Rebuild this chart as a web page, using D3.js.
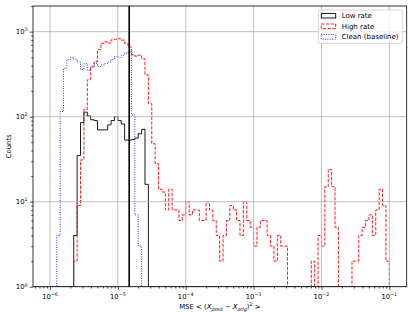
<!DOCTYPE html>
<html><head><meta charset="utf-8">
<script src="https://cdn.jsdelivr.net/npm/d3@7"></script>
<style>body{margin:0;background:#fff}svg{display:block}text{font-family:"DejaVu Sans",sans-serif}</style>
</head><body>
<svg id="c" width="415" height="312"></svg>
<script>
// log10 range of the histogram bins and number of bins
const binLog = [-6, -1];
const nBins = 100;
// counts per bin
const lowRate = [
  0,0,0,0,0,0,0,4,35,85,
  113,102,92,90,70,70,70,80,90,100,
  90,82,53,53,54,56,63,71,16,0,
  0,0,0,0,0,0,0,0,0,0, 0,0,0,0,0,0,0,0,0,0,
  0,0,0,0,0,0,0,0,0,0, 0,0,0,0,0,0,0,0,0,0,
  0,0,0,0,0,0,0,0,0,0, 0,0,0,0,0,0,0,0,0,0,
  0,0,0,0,0,0,0,0,0,0];
const highRate = [
  0,0,0,0,0,0,0,2,9,31,
  122,272,383,445,615,730,760,735,800,815,
  825,795,730,660,535,515,530,480,310,142,
  48,28,14,13,8,14,8,8,6,7,
  10,7,8,8,6,6,10,8,6,4,
  2,4,6,9,8,6,4,10,6,5,
  3,5,6,6,4,3,2,4,3,3,
  0,0,0,0,0,0,0,2,1,4,
  3,15,24,15,5,0,0,0,0,2,
  2,4,5,6,7,4,8,14,9,2];
const clean = [
  0,0,4,115,370,470,500,475,440,360,
  420,350,395,425,390,405,420,440,470,510,
  500,530,560,575,105,7,3,0,0,0,
  0,0,0,0,0,0,0,0,0,0, 0,0,0,0,0,0,0,0,0,0,
  0,0,0,0,0,0,0,0,0,0, 0,0,0,0,0,0,0,0,0,0,
  0,0,0,0,0,0,0,0,0,0, 0,0,0,0,0,0,0,0,0,0,
  0,0,0,0,0,0,0,0,0,0];
const threshold = 1.47e-5;
const seriesNames = ["Low rate", "High rate", "Clean (baseline)"];
const xTickExp = [-6,-5,-4,-3,-2,-1];
const yTickExp = [0,1,2,3];

const L=33, R=406.7, T=6, B=286.7;
const x = d3.scaleLog().domain([Math.pow(10,-6.25), Math.pow(10,-0.744)]).range([L,R]);
const y = d3.scaleLog().domain([1, Math.pow(10,3.302)]).range([B,T]);
const svg = d3.select("#c");

const edges = d3.range(nBins+1).map(i => Math.pow(10, binLog[0] + (binLog[1]-binLog[0])*i/nBins));

svg.append("defs").append("clipPath").attr("id","clip")
  .append("rect").attr("x",L).attr("y",T).attr("width",R-L).attr("height",B-T);

const xMaj = xTickExp.map(e=>Math.pow(10,e));
const yMaj = yTickExp.map(e=>Math.pow(10,e));
const styles = [
  {stroke:"#000000", dash:null},
  {stroke:"#ff0000", dash:"3.3,1.45"},
  {stroke:"#0000ff", dash:"0.9,1.5"}
];

function stepPts(counts){
  const pts=[[edges[0],1]];
  counts.forEach((c,i)=>{ pts.push([edges[i],c]); pts.push([edges[i+1],c]); });
  pts.push([edges[nBins],1]);
  return pts;
}
const line = d3.line().x(d=>x(d[0])).y(d=> d[1]>1 ? y(d[1]) : y(1));
const plot = svg.append("g").attr("clip-path","url(#clip)");
[lowRate, highRate, clean].forEach((s,k)=>{
  plot.append("path").attr("d", line(stepPts(s))).attr("fill","none")
    .attr("stroke", styles[k].stroke).attr("stroke-width",0.9)
    .attr("stroke-dasharray", styles[k].dash);
});

// grid (matplotlib draws it above patches)
const grid = svg.append("g");
grid.selectAll(".gx").data(xMaj).join("line").attr("x1",d=>x(d)).attr("x2",d=>x(d))
  .attr("y1",T).attr("y2",B).attr("stroke","#b0b0b0").attr("stroke-width",0.8);
grid.selectAll(".gy").data(yMaj).join("line").attr("y1",d=>y(d)).attr("y2",d=>y(d))
  .attr("x1",L).attr("x2",R).attr("stroke","#b0b0b0").attr("stroke-width",0.8);

// threshold line
svg.append("line").attr("x1",x(threshold)).attr("x2",x(threshold)).attr("y1",T).attr("y2",B)
  .attr("stroke","#000").attr("stroke-width",1.6);

// minor ticks
function minors(lo,hi){ const out=[]; for(let e=lo;e<=hi;e++) for(let m=2;m<=9;m++){ out.push(m*Math.pow(10,e)); } return out; }
const xDom = x.domain(), yDom = y.domain();
const xMin = minors(-7,-1).filter(v=>v>=xDom[0]&&v<=xDom[1]);
const yMin = minors(0,3).filter(v=>v>=yDom[0]&&v<=yDom[1]);

const ax = svg.append("g").attr("transform",`translate(0,${B})`)
  .call(d3.axisBottom(x).tickValues(xMaj).tickSize(3.2).tickFormat(""));
const axm = svg.append("g").attr("transform",`translate(0,${B})`)
  .call(d3.axisBottom(x).tickValues(xMin).tickSize(1.8).tickFormat(""));
const ay = svg.append("g").attr("transform",`translate(${L},0)`)
  .call(d3.axisLeft(y).tickValues(yMaj).tickSize(3.2).tickFormat(""));
const aym = svg.append("g").attr("transform",`translate(${L},0)`)
  .call(d3.axisLeft(y).tickValues(yMin).tickSize(1.8).tickFormat(""));
[ax,axm,ay,aym].forEach(g=>{ g.select(".domain").remove(); g.selectAll("line").attr("stroke","#000").attr("stroke-width",0.7); });

// tick labels (mathtext style 10^e)
const fs = 6.8;
xTickExp.forEach(e=>{
  const t = svg.append("text").attr("x",x(Math.pow(10,e))).attr("y",298.8)
    .attr("text-anchor","middle").attr("font-size",fs).attr("fill","#000");
  t.append("tspan").text("10");
  t.append("tspan").attr("dy",-2.9).attr("font-size",fs*0.7).text("\u2212"+Math.abs(e));
});
yTickExp.forEach(e=>{
  const t = svg.append("text").attr("x",27.5).attr("y",y(Math.pow(10,e))+2.7)
    .attr("text-anchor","end").attr("font-size",fs).attr("fill","#000");
  t.append("tspan").text("10");
  t.append("tspan").attr("dy",-2.9).attr("font-size",fs*0.7).text(String(e));
});

// spines
svg.append("rect").attr("x",L).attr("y",T).attr("width",R-L).attr("height",B-T)
  .attr("fill","none").attr("stroke","#000").attr("stroke-width",0.8);

// axis labels
const lf = 6.9;
svg.append("text").attr("transform",`translate(10.5,${(T+B)/2}) rotate(-90)`)
  .attr("text-anchor","middle").attr("font-size",lf).text("Counts");
const xl = svg.append("text").attr("x",(L+R)/2).attr("y",309).attr("text-anchor","middle").attr("font-size",lf);
xl.append("tspan").text("MSE < (");
xl.append("tspan").attr("font-style","italic").text("X");
xl.append("tspan").attr("font-style","italic").attr("font-size",lf*0.7).attr("dy",1.5).text("pred");
xl.append("tspan").attr("dy",-1.5).text(" \u2212 ");
xl.append("tspan").attr("font-style","italic").text("X");
xl.append("tspan").attr("font-style","italic").attr("font-size",lf*0.7).attr("dy",1.5).text("orig");
xl.append("tspan").attr("dy",-1.5).text(")");
xl.append("tspan").attr("font-size",lf*0.7).attr("dy",-2.8).text("2");
xl.append("tspan").attr("dy",2.8).text(" >");

// legend
const lg = svg.append("g");
lg.append("rect").attr("x",318.3).attr("y",10).attr("width",84.4).attr("height",33.3).attr("rx",2)
  .attr("fill","#fff").attr("fill-opacity",0.8).attr("stroke","#cccccc").attr("stroke-width",0.8);
seriesNames.forEach((n,i)=>{
  const cy = 15.7 + i*10.6;
  lg.append("rect").attr("x",321.3).attr("y",cy-2.3).attr("width",14.4).attr("height",4.6)
    .attr("fill","none").attr("stroke",styles[i].stroke).attr("stroke-width",0.9)
    .attr("stroke-dasharray",styles[i].dash);
  lg.append("text").attr("x",341.7).attr("y",cy+2.5).attr("font-size",7).text(n);
});
</script>
</body></html>
